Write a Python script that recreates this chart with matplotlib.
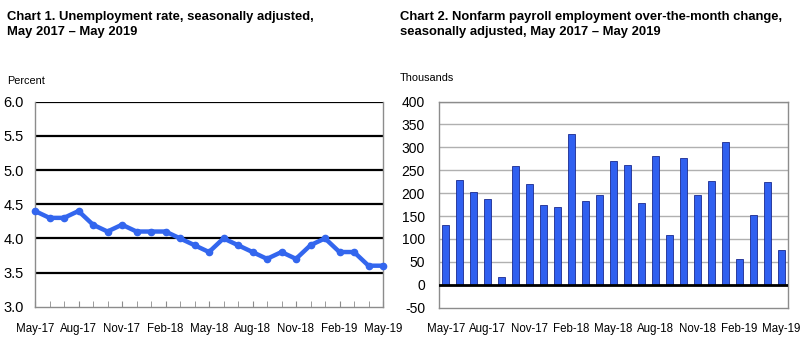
import matplotlib
matplotlib.use("Agg")
import matplotlib.pyplot as plt
import numpy as np

plt.rcParams['font.family'] = ['Liberation Sans', 'DejaVu Sans']

months = ["May-17", "Jun-17", "Jul-17", "Aug-17", "Sep-17", "Oct-17", "Nov-17", "Dec-17",
          "Jan-18", "Feb-18", "Mar-18", "Apr-18", "May-18", "Jun-18", "Jul-18", "Aug-18",
          "Sep-18", "Oct-18", "Nov-18", "Dec-18", "Jan-19", "Feb-19", "Mar-19", "Apr-19", "May-19"]
unemployment = [4.4, 4.3, 4.3, 4.4, 4.2, 4.1, 4.2, 4.1, 4.1, 4.1, 4.0, 3.9, 3.8,
                4.0, 3.9, 3.8, 3.7, 3.8, 3.7, 3.9, 4.0, 3.8, 3.8, 3.6, 3.6]
payroll = [130, 229, 202, 187, 18, 259, 220, 174, 170, 329, 182, 196, 270,
           261, 178, 282, 108, 277, 196, 227, 312, 56, 153, 224, 75]
left_yticks = [3.0, 3.5, 4.0, 4.5, 5.0, 5.5, 6.0]
right_yticks = [-50, 0, 50, 100, 150, 200, 250, 300, 350, 400]
label_every = 3

W, H = 810, 354
fig = plt.figure(figsize=(W / 100, H / 100), dpi=100)

def rect(x0, y0, x1, y1):
    return [x0 / W, 1 - y1 / H, (x1 - x0) / W, (y1 - y0) / H]

blue = '#3366ee'
grey = '#8c8c8c'

# ---- Chart 1 ----
ax1 = fig.add_axes(rect(35, 101.7, 383, 306.7))
x = np.arange(len(months))
ax1.set_xlim(0, len(months) - 1)
ax1.set_ylim(3.0, 6.0)
for yv in left_yticks[1:]:
    ax1.axhline(yv, color='black', lw=1.6, zorder=1)
ax1.plot(x, unemployment, color=blue, lw=3.2, marker='o', ms=4.5, zorder=3, clip_on=False)
ax1.set_yticks(left_yticks)
ax1.set_yticklabels([f"{v:.1f}" for v in left_yticks], fontsize=10.5)
ax1.tick_params(axis='y', length=0, pad=8)
ax1.set_xticks(x, minor=True)
ax1.set_xticks(x[::label_every])
ax1.set_xticklabels(months[::label_every], fontsize=8.3)
ax1.tick_params(axis='x', which='both', direction='in', length=4, color=grey, pad=12)
ax1.spines['top'].set_visible(False)
for s in ['left', 'right', 'bottom']:
    ax1.spines[s].set_color(grey)
    ax1.spines[s].set_linewidth(1.0)

fig.text(7 / W, 1 - 11 / H, "Chart 1. Unemployment rate, seasonally adjusted,\nMay 2017 \u2013 May 2019",
         fontsize=9.4, fontweight='bold', va='top', ha='left', linespacing=1.35)
fig.text(7 / W, 1 - 81 / H, "Percent", fontsize=7.8, va='center', ha='left')

# ---- Chart 2 ----
ax2 = fig.add_axes(rect(439, 101.5, 788, 307.7))
ax2.set_xlim(-0.5, len(months) - 0.5)
ax2.set_ylim(-50, 400)
for yv in right_yticks[1:]:
    ax2.axhline(yv, color='#b0b0b0', lw=1.0, zorder=1)
ax2.bar(x, payroll, width=0.5, color='#3060f0', edgecolor='#1a2a90', linewidth=0.6, zorder=2)
ax2.axhline(0, color='black', lw=2, zorder=3)
ax2.set_yticks(right_yticks)
ax2.set_yticklabels([str(v) for v in right_yticks], fontsize=10)
ax2.tick_params(axis='y', length=0, pad=10)
ax2.set_xticks(x[::label_every])
ax2.set_xticklabels(months[::label_every], fontsize=8.3)
ax2.tick_params(axis='x', length=0, pad=11)
for s in ['left', 'right', 'bottom', 'top']:
    ax2.spines[s].set_color(grey)
    ax2.spines[s].set_linewidth(1.0)

fig.text(400 / W, 1 - 11 / H, "Chart 2. Nonfarm payroll employment over-the-month change,\nseasonally adjusted, May 2017 \u2013 May 2019",
         fontsize=9.4, fontweight='bold', va='top', ha='left', linespacing=1.35)
fig.text(400 / W, 1 - 78 / H, "Thousands", fontsize=7.8, va='center', ha='left')

fig.savefig("out.png", dpi=100)
